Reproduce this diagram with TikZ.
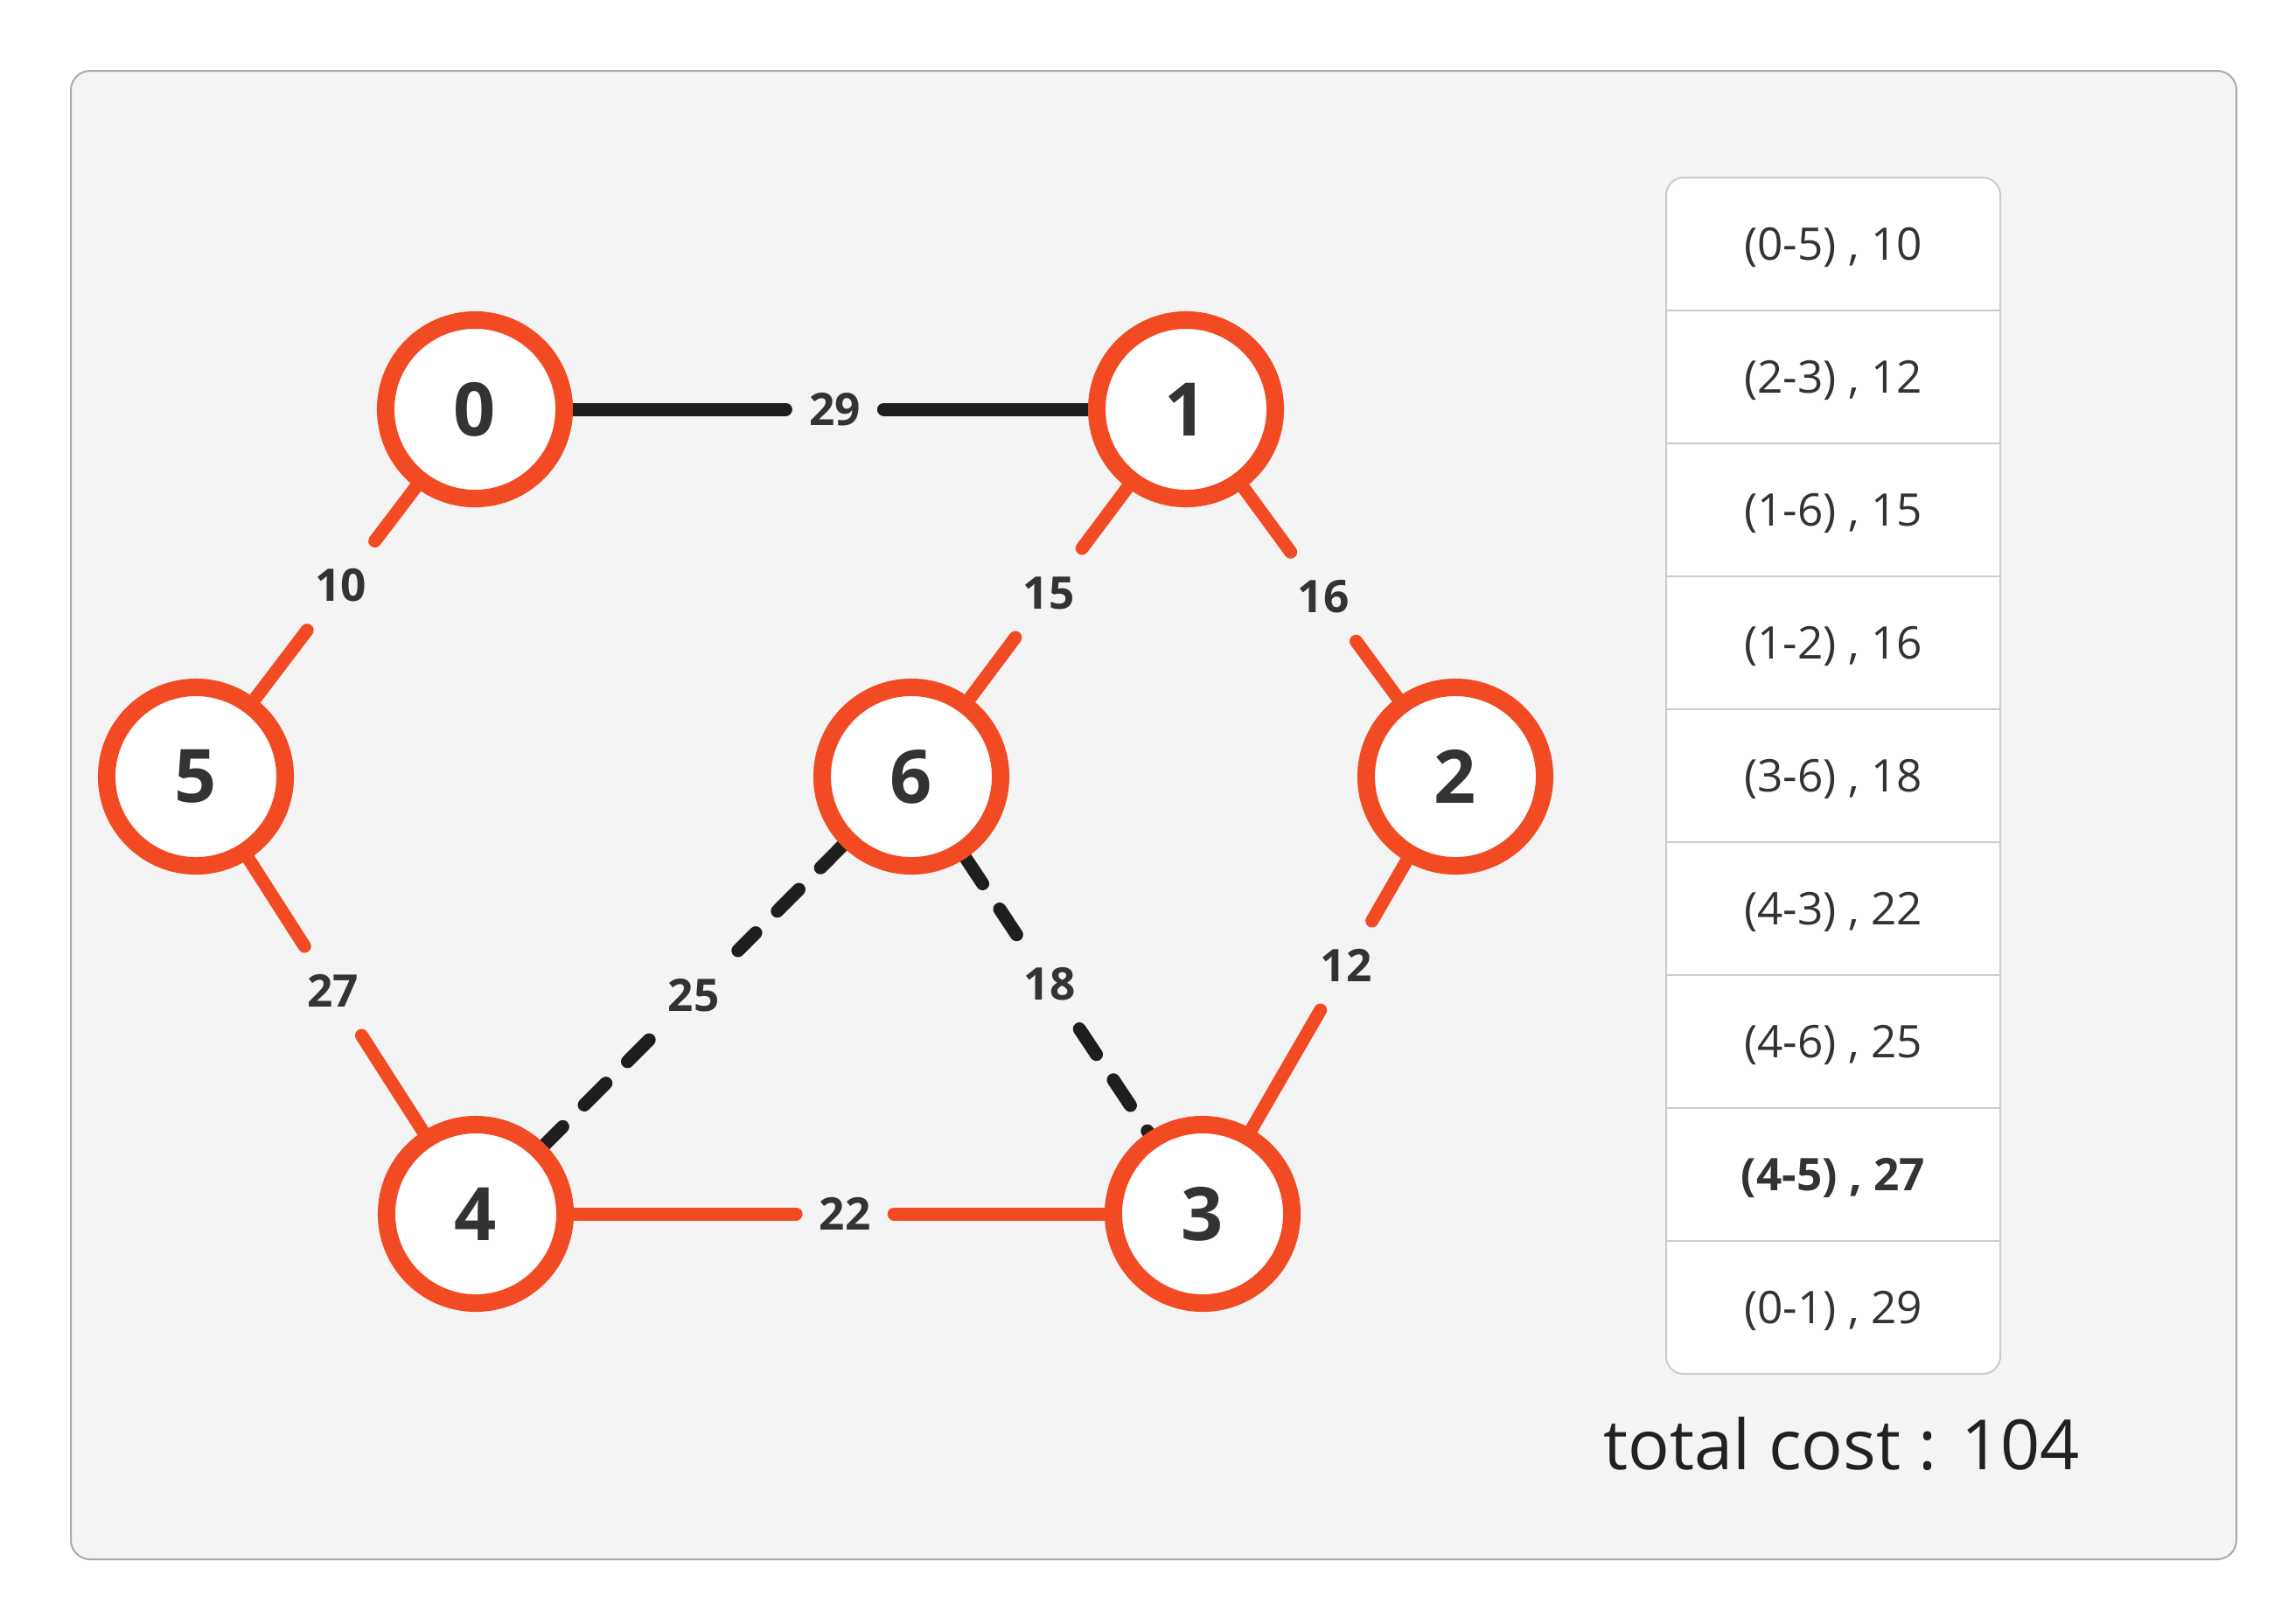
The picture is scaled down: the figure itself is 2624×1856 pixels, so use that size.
\documentclass[tikz,border=0pt]{standalone}
\usepackage{fontspec}
\setmainfont{Open Sans}
\usetikzlibrary{backgrounds}

\definecolor{treered}{HTML}{F24A23}
\definecolor{edgeblack}{HTML}{1E1E1E}
\definecolor{labelgray}{HTML}{333333}
\definecolor{panelbg}{HTML}{F4F4F4}
\definecolor{panelline}{HTML}{AAAAAA}
\definecolor{tableline}{HTML}{CCCCCC}

\begin{document}
\begin{tikzpicture}[x=0.01cm, y=-0.01cm,
  vertex/.style={circle, draw=treered, line width=0.2cm, fill=white, minimum size=2.04cm, inner sep=0pt,
    text=labelgray, font=\fontsize{24}{28}\selectfont\bfseries},
  weight/.style={rectangle, inner sep=0pt, outer sep=0pt, minimum width=1.12cm, minimum height=1.02cm,
    text=labelgray, font=\fontsize{14.6}{17}\selectfont\bfseries},
  tree/.style={draw=treered, line width=0.15cm, line cap=round},
  spare/.style={draw=edgeblack, line width=0.15cm, line cap=round},
  sparedash/.style={spare, dash pattern=on 0.35cm off 0.35cm},
  row/.style={anchor=base, text=labelgray, font=\fontsize{14.6}{17}\selectfont}]
  \useasboundingbox (0,0) rectangle (2624,1856);

  \node[vertex] (n0) at (543,468) {0};
  \node[vertex] (n1) at (1356,468) {1};
  \node[vertex] (n5) at (224,888) {5};
  \node[vertex] (n6) at (1042,888) {6};
  \node[vertex] (n2) at (1664,888) {2};
  \node[vertex] (n4) at (544,1388) {4};
  \node[vertex] (n3) at (1375,1388) {3};

  \path (n0.center) -- node[weight, pos=0.506] (w01) {29} (n1.center);
  \path (n0.center) -- node[weight, pos=0.48] (w05) {10} (n5.center);
  \path (n1.center) -- node[weight, pos=0.5] (w16) {15} (n6.center);
  \path (n1.center) -- node[weight, pos=0.51] (w12) {16} (n2.center);
  \path (n5.center) -- node[weight, pos=0.49] (w54) {27} (n4.center);
  \path (n6.center) -- node[weight, pos=0.5] (w64) {25} (n4.center);
  \path (n6.center) -- node[weight, pos=0.475] (w63) {18} (n3.center);
  \path (n2.center) -- node[weight, pos=0.432] (w23) {12} (n3.center);
  \path (n4.center) -- node[weight, pos=0.508] (w43) {22} (n3.center);

  \begin{scope}[on background layer]
    \draw[panelline, fill=panelbg, line width=0.02cm, rounded corners=0.22cm] (81,81) rectangle (2557,1783);
    \draw[spare] (n0) -- (w01) (w01) -- (n1);
    \draw[tree] (n0) -- (w05) (w05) -- (n5);
    \draw[tree] (n1) -- (w16) (w16) -- (n6);
    \draw[tree] (n1) -- (w12) (w12) -- (n2);
    \draw[tree] (n5) -- (w54) (w54) -- (n4);
    \draw[sparedash] (n6) -- (w64) (w64) -- (n4);
    \draw[sparedash] (n6) -- (w63) (w63) -- (n3);
    \draw[tree] (n2) -- (w23) (w23) -- (n3);
    \draw[tree] (n4) -- (w43) (w43) -- (n3);
  \end{scope}

  \draw[tableline, fill=white, line width=0.02cm, rounded corners=0.2cm] (1905,203) rectangle (2287,1571);
  \draw[tableline, line width=0.02cm] (1905,355) -- (2287,355) (1905,507) -- (2287,507)
    (1905,659) -- (2287,659) (1905,811) -- (2287,811) (1905,963) -- (2287,963)
    (1905,1115) -- (2287,1115) (1905,1267) -- (2287,1267) (1905,1419) -- (2287,1419);
  \node[row] (r1) at (2096,297) {(0-5) , 10};
  \node[row] (r2) at (2096,449) {(2-3) , 12};
  \node[row] (r3) at (2096,601) {(1-6) , 15};
  \node[row] (r4) at (2096,753) {(1-2) , 16};
  \node[row] (r5) at (2096,905) {(3-6) , 18};
  \node[row] (r6) at (2096,1057) {(4-3) , 22};
  \node[row] (r7) at (2096,1209) {(4-6) , 25};
  \node[row, font=\fontsize{14.6}{17}\selectfont\bfseries] (r8) at (2096,1361) {(4-5) , 27};
  \node[row] (r9) at (2096,1513) {(0-1) , 29};

  \node[anchor=base, text=black!87, font=\fontsize{22.5}{27}\selectfont] (total) at (2106,1680) {total cost : 104};
\end{tikzpicture}
\end{document}
